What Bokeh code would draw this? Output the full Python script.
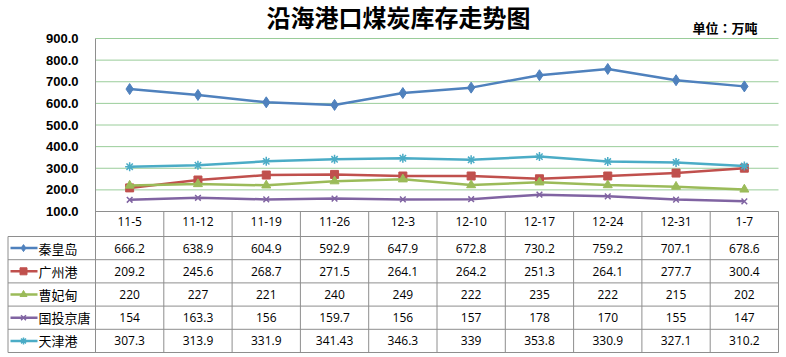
from bokeh.plotting import figure
from bokeh.models import Range1d, FixedTicker, Label, PrintfTickFormatter, LinearAxis
from bokeh.embed import file_html
from bokeh.resources import INLINE
from bokeh.core.properties import value

# ---- data ----
dates = ["11-5", "11-12", "11-19", "11-26", "12-3", "12-10", "12-17", "12-24", "12-31", "1-7"]
qinhuangdao = [666.2, 638.9, 604.9, 592.9, 647.9, 672.8, 730.2, 759.2, 707.1, 678.6]
guangzhou = [209.2, 245.6, 268.7, 271.5, 264.1, 264.2, 251.3, 264.1, 277.7, 300.4]
caofeidian = [220, 227, 221, 240, 249, 222, 235, 222, 215, 202]
guotou_jingtang = [154, 163.3, 156, 159.7, 156, 157, 178, 170, 155, 147]
tianjin = [307.3, 313.9, 331.9, 341.43, 346.3, 339, 353.8, 330.9, 327.1, 310.2]
series_names = ["秦皇岛", "广州港", "曹妃甸", "国投京唐", "天津港"]
y_ticks = [100, 200, 300, 400, 500, 600, 700, 800, 900]
title_text = "沿海港口煤炭库存走势图"
unit_text = "单位：万吨"

series_values = [qinhuangdao, guangzhou, caofeidian, guotou_jingtang, tianjin]
colors = ["#4F81BD", "#C0504D", "#9BBB59", "#8064A2", "#4BACC6"]
markers = ["diamond", "square", "triangle", "x", "asterisk"]
msizes = [11, 8, 9, 8, 9]
mline = [1, 1, 1, 1.5, 1.5]

# ---- layout constants (pixels) ----
W, H = 786, 357
PLOT_L, PLOT_R = 95, 778          # plot area / value columns
PLOT_T, PLOT_B = 38, 211          # 900 line, 100 line
ROW0, ROW_H = 236, 23.2           # first data row top, row height
TABLE_L = 7
N = len(dates)
R = len(series_names)
YMIN, YMAX = y_ticks[0], y_ticks[-1]

pxu = (PLOT_R - PLOT_L) / N                   # px per column
x_start = -PLOT_L / pxu
x_end = (W - PLOT_L) / pxu
ky = (PLOT_B - PLOT_T) / (YMAX - YMIN)        # px per value unit
y_top_val = YMAX + PLOT_T / ky
y_bottom_val = YMAX - (H - PLOT_T) / ky
r_bottom = (H - ROW0) / ROW_H
r_top = -ROW0 / ROW_H
r_header = (PLOT_B - ROW0) / ROW_H
table_bottom_val = YMIN - (ROW0 + R * ROW_H - PLOT_B) / ky

def px_x(px):
    return (px - PLOT_L) / pxu

xs = [i + 0.5 for i in range(N)]

GRID = "#9ACD9A"
BORDER = "#8E8E8E"
NUM_FONT = value("Open Sans")
CJK_FONT = value("Noto Sans CJK SC")

p = figure(width=W, height=H, x_range=Range1d(x_start, x_end), y_range=Range1d(y_bottom_val, y_top_val),
           output_backend="svg", toolbar_location=None,
           x_axis_location=None, y_axis_location=None,
           min_border_left=0, min_border_right=0, min_border_top=0, min_border_bottom=0)
p.extra_y_ranges = {"table": Range1d(r_bottom, r_top)}
p.outline_line_color = None
p.grid.visible = False
p.background_fill_color = "white"
p.border_fill_color = "white"

# horizontal grid lines of the plot area
p.segment(x0=[0] * len(y_ticks), x1=[N] * len(y_ticks), y0=y_ticks, y1=y_ticks,
          line_color=GRID, line_width=1)

# y axis (drawn at the left edge of the plot area)
yaxis = LinearAxis(fixed_location=0, bounds=(table_bottom_val, YMAX))
yaxis.ticker = FixedTicker(ticks=y_ticks)
yaxis.formatter = PrintfTickFormatter(format="%.1f")
yaxis.major_tick_out = 0
yaxis.major_tick_in = 0
yaxis.minor_tick_out = 0
yaxis.minor_tick_in = 0
yaxis.major_label_standoff = 17
yaxis.major_label_text_font = "Liberation Sans"
yaxis.major_label_text_font_style = "bold"
yaxis.major_label_text_font_size = "13px"
yaxis.major_label_text_color = "black"
yaxis.axis_line_color = BORDER
p.add_layout(yaxis, "left")

# x axis (category header row of the data table)
xaxis = LinearAxis(fixed_location=YMIN, bounds=(0, N))
xaxis.ticker = FixedTicker(ticks=xs)
xaxis.major_label_overrides = {x: d for x, d in zip(xs, dates)}
xaxis.major_tick_out = 0
xaxis.major_tick_in = 0
xaxis.minor_tick_out = 0
xaxis.minor_tick_in = 0
xaxis.major_label_standoff = 5
xaxis.major_label_text_font = "Open Sans"
xaxis.major_label_text_font_size = "12px"
xaxis.major_label_text_color = "black"
xaxis.axis_line_color = BORDER
p.add_layout(xaxis, "below")

# series
for vals, c, m, s, lw in zip(series_values, colors, markers, msizes, mline):
    p.line(xs, vals, line_color=c, line_width=2.5)
    p.scatter(xs, vals, marker=m, size=s, fill_color=c, line_color=c, line_width=lw)

# ---- data table ----
x_left = px_x(TABLE_L + 0.5)
p.segment(x0=[x_left] * (R + 1), x1=[N] * (R + 1), y0=list(range(R + 1)), y1=list(range(R + 1)),
          line_color=BORDER, line_width=1, y_range_name="table")
vx = list(range(1, N + 1))
p.segment(x0=vx, x1=vx, y0=[r_header] * len(vx), y1=[R] * len(vx),
          line_color=BORDER, line_width=1, y_range_name="table")
p.segment(x0=[x_left], x1=[x_left], y0=[0], y1=[R], line_color=BORDER, line_width=1,
          y_range_name="table")

tx, ty, tt = [], [], []
for r, vals in enumerate(series_values):
    for c, v in enumerate(vals):
        tx.append(c + 0.5)
        ty.append(r + 0.5)
        tt.append(f"{v:g}")
p.text(x=tx, y=ty, text=tt, text_align="center", text_baseline="middle",
       text_font=NUM_FONT, text_font_size="12px", text_color="black", y_range_name="table")

rows = [r + 0.5 for r in range(R)]
p.text(x=[px_x(38)] * R, y=rows, text=series_names, text_align="left",
       text_baseline="middle", text_font=CJK_FONT, text_font_size="13px", text_color="black",
       y_range_name="table")
for r, (c, m, lw) in enumerate(zip(colors, markers, mline)):
    p.segment(x0=[px_x(10)], x1=[px_x(37)], y0=[r + 0.5], y1=[r + 0.5],
              line_color=c, line_width=2.5, y_range_name="table")
    p.scatter(x=[px_x(23)], y=[r + 0.5], marker=m, size=7, fill_color=c,
              line_color=c, line_width=lw, y_range_name="table")

# ---- titles ----
p.add_layout(Label(x=398, y=H - 16, x_units="screen", y_units="screen", text=title_text,
                   text_font="Noto Sans CJK SC", text_font_style="bold", text_font_size="24px",
                   text_align="center", text_baseline="middle", text_color="black"))
p.add_layout(Label(x=692, y=H - 26.5, x_units="screen", y_units="screen", text=unit_text,
                   text_font="Noto Sans CJK TC", text_font_style="bold", text_font_size="13px",
                   text_align="left", text_baseline="middle", text_color="black"))

open("out.html", "w").write(file_html(p, INLINE))
